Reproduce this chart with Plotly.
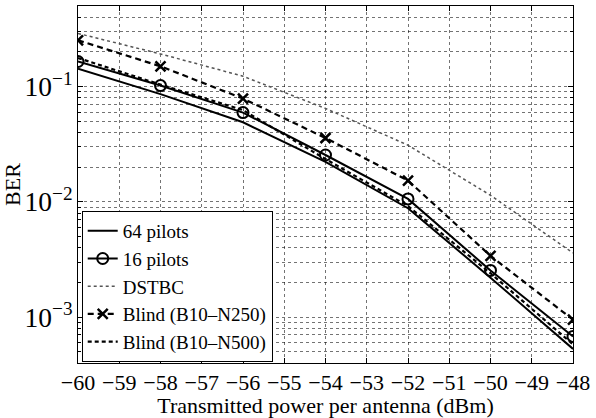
import plotly.graph_objects as go

power_dbm = [-60, -58, -56, -54, -52, -50, -48]
ber_64_pilots = [0.143, 0.086, 0.049, 0.0222, 0.0088, 0.0022, 0.00053]
ber_16_pilots = [0.165, 0.102, 0.0595, 0.0255, 0.0106, 0.00254, 0.00068]
ber_dstbc = [0.289, 0.192, 0.123, 0.0646, 0.031, 0.0114, 0.0036]
ber_blind_n250 = [0.252, 0.150, 0.0787, 0.0358, 0.0153, 0.0034, 0.00095]
ber_blind_n500 = [0.177, 0.104, 0.0625, 0.0235, 0.0092, 0.0024, 0.00058]
x_ticks = list(range(-60, -47))

FONT = "Liberation Serif"

fig = go.Figure()
fig.add_trace(go.Scatter(x=power_dbm, y=ber_64_pilots, name="64 pilots", mode="lines",
                         line=dict(color="black", width=2)))
fig.add_trace(go.Scatter(x=power_dbm, y=ber_16_pilots, name="16 pilots", mode="lines+markers",
                         line=dict(color="black", width=2),
                         marker=dict(symbol="circle-open", size=11, color="black",
                                     line=dict(width=2, color="black"))))
fig.add_trace(go.Scatter(x=power_dbm, y=ber_dstbc, name="DSTBC", mode="lines",
                         line=dict(color="#555555", width=1.5, dash="dot")))
fig.add_trace(go.Scatter(x=power_dbm, y=ber_blind_n250, name="Blind (B10–N250)", mode="lines+markers",
                         line=dict(color="black", width=2.2, dash="6px,4px"),
                         marker=dict(symbol="x-thin-open", size=10, color="black",
                                     line=dict(width=2.5, color="black"))))
fig.add_trace(go.Scatter(x=power_dbm, y=ber_blind_n500, name="Blind (B10–N500)", mode="lines",
                         line=dict(color="black", width=2.2, dash="4px,3px")))

grid = dict(showgrid=True, gridcolor="rgba(0,0,0,0.55)", gridwidth=1, griddash="dot")

fig.update_xaxes(range=[-60, -48], tickvals=x_ticks, ticks="inside", ticklen=5,
                 tickcolor="black", showline=True, linecolor="black", linewidth=1,
                 mirror="ticks", zeroline=False,
                 tickfont=dict(family=FONT, size=22, color="black"),
                 title=dict(text="Transmitted power per antenna (dBm)", standoff=2,
                            font=dict(family=FONT, size=22, color="black")),
                 **grid)
fig.update_yaxes(type="log", range=[-3.398, -0.301], dtick=1, exponentformat="power",
                 ticks="inside", ticklen=5, tickcolor="black", showline=True,
                 linecolor="black", linewidth=1, mirror="ticks", zeroline=False,
                 tickfont=dict(family=FONT, size=22, color="black"),
                 title=dict(text="BER", standoff=4, font=dict(family=FONT, size=22, color="black")),
                 minor=dict(dtick="D1", ticks="inside", ticklen=3, tickcolor="black",
                            showgrid=True, gridcolor="rgba(0,0,0,0.55)", gridwidth=1, griddash="dot"),
                 **grid)

fig.update_layout(
    width=596, height=418,
    margin=dict(l=78, r=23, t=5, b=49),
    plot_bgcolor="white", paper_bgcolor="white",
    font=dict(family=FONT, size=22, color="black"),
    legend=dict(x=0.0075, y=0.003, xanchor="left", yanchor="bottom",
                bgcolor="white", bordercolor="black", borderwidth=1,
                itemwidth=30, tracegroupgap=0,
                font=dict(family=FONT, size=19, color="black")),
    showlegend=True,
)

fig.write_html("out.html", config={"displayModeBar": False},
               post_script="document.body.style.margin='0';document.body.style.overflow='hidden';")
